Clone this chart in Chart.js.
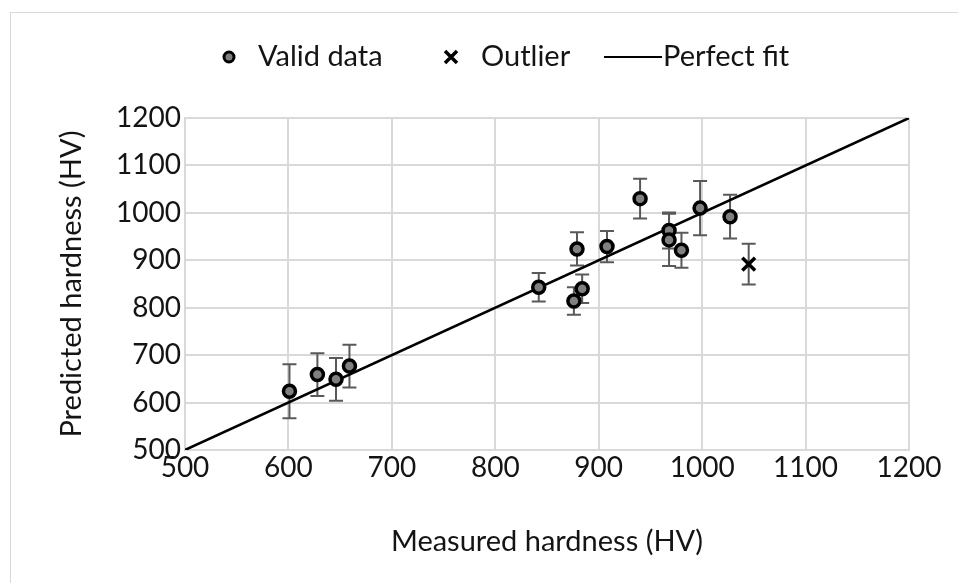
<!DOCTYPE html>
<html>
<head>
<meta charset="utf-8">
<script src="https://cdn.jsdelivr.net/npm/chart.js@4.4.0/dist/chart.umd.min.js"></script>
<style>
    html, body { margin: 0; padding: 0; background: #fff; }
    #wrap { position: relative; width: 958px; height: 583px; overflow: hidden; }
    #frame {
        position: absolute; left: 10px; top: 12px; width: 980px; height: 620px;
        border: 1px solid #d9d9d9; pointer-events: none;
    }
</style>
</head>
<body>
<div id="wrap">
    <canvas id="hardnessChart" width="958" height="583"></canvas>
    <div id="frame"></div>
</div>
<script>
// Datos
const measured = [601, 628, 646, 659, 842, 876, 879, 884, 908, 940, 968, 968, 980, 998, 1027];
const predicted = [624, 659, 649, 677, 843, 814, 924, 840, 929, 1030, 963, 943, 921, 1010, 992];
const errors = [57, 45, 45, 45, 30, 29, 35, 30, 33, 42, 38, 55, 37, 57, 46];

const outlierMeasured = [1045];
const outlierPredicted = [892];
const outlierErrors = [43];

const fitLine = [500, 1200];
const axisTicks = [500, 600, 700, 800, 900, 1000, 1100, 1200];

const FONT = 'Lato, "Open Sans", sans-serif';
const TEXT = '#141414';

const validPoints = measured.map((x, i) => ({ x: x, y: predicted[i] }));
const outlierPoints = outlierMeasured.map((x, i) => ({ x: x, y: outlierPredicted[i] }));
const fitPoints = fitLine.map(v => ({ x: v, y: v }));

// Barras de error verticales
const errorBars = {
    id: 'errorBars',
    beforeDatasetsDraw(chart) {
        const ctx = chart.ctx;
        const xs = chart.scales.x;
        const ys = chart.scales.y;
        const groups = [
            [measured, predicted, errors],
            [outlierMeasured, outlierPredicted, outlierErrors]
        ];
        ctx.save();
        ctx.strokeStyle = '#595959';
        ctx.lineWidth = 2;
        groups.forEach(g => {
            g[0].forEach((mx, i) => {
                const px = xs.getPixelForValue(mx);
                const top = ys.getPixelForValue(g[1][i] + g[2][i]);
                const bot = ys.getPixelForValue(g[1][i] - g[2][i]);
                ctx.beginPath();
                ctx.moveTo(px, top); ctx.lineTo(px, bot);
                ctx.moveTo(px - 7, top); ctx.lineTo(px + 7, top);
                ctx.moveTo(px - 7, bot); ctx.lineTo(px + 7, bot);
                ctx.stroke();
            });
        });
        ctx.restore();
    }
};

// Leyenda dibujada a mano
const topLegend = {
    id: 'topLegend',
    afterDraw(chart) {
        const ctx = chart.ctx;
        const y = 57;
        ctx.save();
        ctx.font = '29px ' + FONT;
        ctx.textBaseline = 'middle';

        ctx.beginPath();
        ctx.arc(229, y, 5, 0, Math.PI * 2);
        ctx.fillStyle = '#7f7f7f';
        ctx.fill();
        ctx.lineWidth = 3;
        ctx.strokeStyle = '#000';
        ctx.stroke();
        ctx.fillStyle = TEXT;
        ctx.fillText('Valid data', 258, y);

        ctx.beginPath();
        ctx.moveTo(445, y - 6); ctx.lineTo(457, y + 6);
        ctx.moveTo(457, y - 6); ctx.lineTo(445, y + 6);
        ctx.lineWidth = 3.5;
        ctx.stroke();
        ctx.fillText('Outlier', 481, y);

        ctx.beginPath();
        ctx.moveTo(604, y); ctx.lineTo(662, y);
        ctx.lineWidth = 2;
        ctx.stroke();
        ctx.fillText('Perfect fit', 663, y);
        ctx.restore();
    }
};

document.addEventListener('DOMContentLoaded', function() {
    const ctx = document.getElementById('hardnessChart').getContext('2d');
    new Chart(ctx, {
        type: 'scatter',
        data: {
            datasets: [
                {
                    label: 'Valid data',
                    data: validPoints,
                    pointStyle: 'circle',
                    pointRadius: 6,
                    pointBorderWidth: 3.5,
                    pointBackgroundColor: '#808080',
                    pointBorderColor: '#000',
                    order: 0
                },
                {
                    label: 'Outlier',
                    data: outlierPoints,
                    pointStyle: 'crossRot',
                    pointRadius: 9,
                    pointBorderWidth: 3.5,
                    pointBorderColor: '#000',
                    order: 1
                },
                {
                    type: 'line',
                    label: 'Perfect fit',
                    data: fitPoints,
                    borderColor: '#000',
                    borderWidth: 2.5,
                    pointRadius: 0,
                    fill: false,
                    order: 2
                }
            ]
        },
        options: {
            responsive: false,
            animation: false,
            layout: { padding: { left: 10, top: 118, right: 49, bottom: 0 } },
            plugins: {
                legend: { display: false },
                tooltip: { enabled: false }
            },
            scales: {
                x: {
                    type: 'linear',
                    min: 500, max: 1200,
                    afterBuildTicks: s => { s.ticks = axisTicks.map(v => ({ value: v })); },
                    afterFit: s => { s.height = 133; },
                    grid: { color: '#d9d9d9', lineWidth: 2, drawTicks: false },
                    border: { color: '#d9d9d9', width: 2 },
                    ticks: {
                        color: TEXT, font: { family: FONT, size: 28 }, padding: 1, maxRotation: 0,
                        callback: v => String(v)
                    },
                    title: {
                        display: true,
                        text: 'Measured hardness (HV)',
                        color: TEXT,
                        font: { family: FONT, size: 29 },
                        padding: { top: 0, bottom: 24 }
                    }
                },
                y: {
                    type: 'linear',
                    min: 500, max: 1200,
                    afterBuildTicks: s => { s.ticks = axisTicks.map(v => ({ value: v })); },
                    afterFit: s => { s.width = 175; },
                    grid: { color: '#d9d9d9', lineWidth: 2, drawTicks: false },
                    border: { color: '#d9d9d9', width: 2 },
                    ticks: {
                        color: TEXT, font: { family: FONT, size: 28 }, padding: 4,
                        callback: v => String(v)
                    },
                    title: {
                        display: true,
                        text: 'Predicted hardness (HV)',
                        color: TEXT,
                        font: { family: FONT, size: 29 },
                        padding: { top: 44, bottom: 0 }
                    }
                }
            }
        },
        plugins: [errorBars, topLegend]
    });
});
</script>
</body>
</html>
